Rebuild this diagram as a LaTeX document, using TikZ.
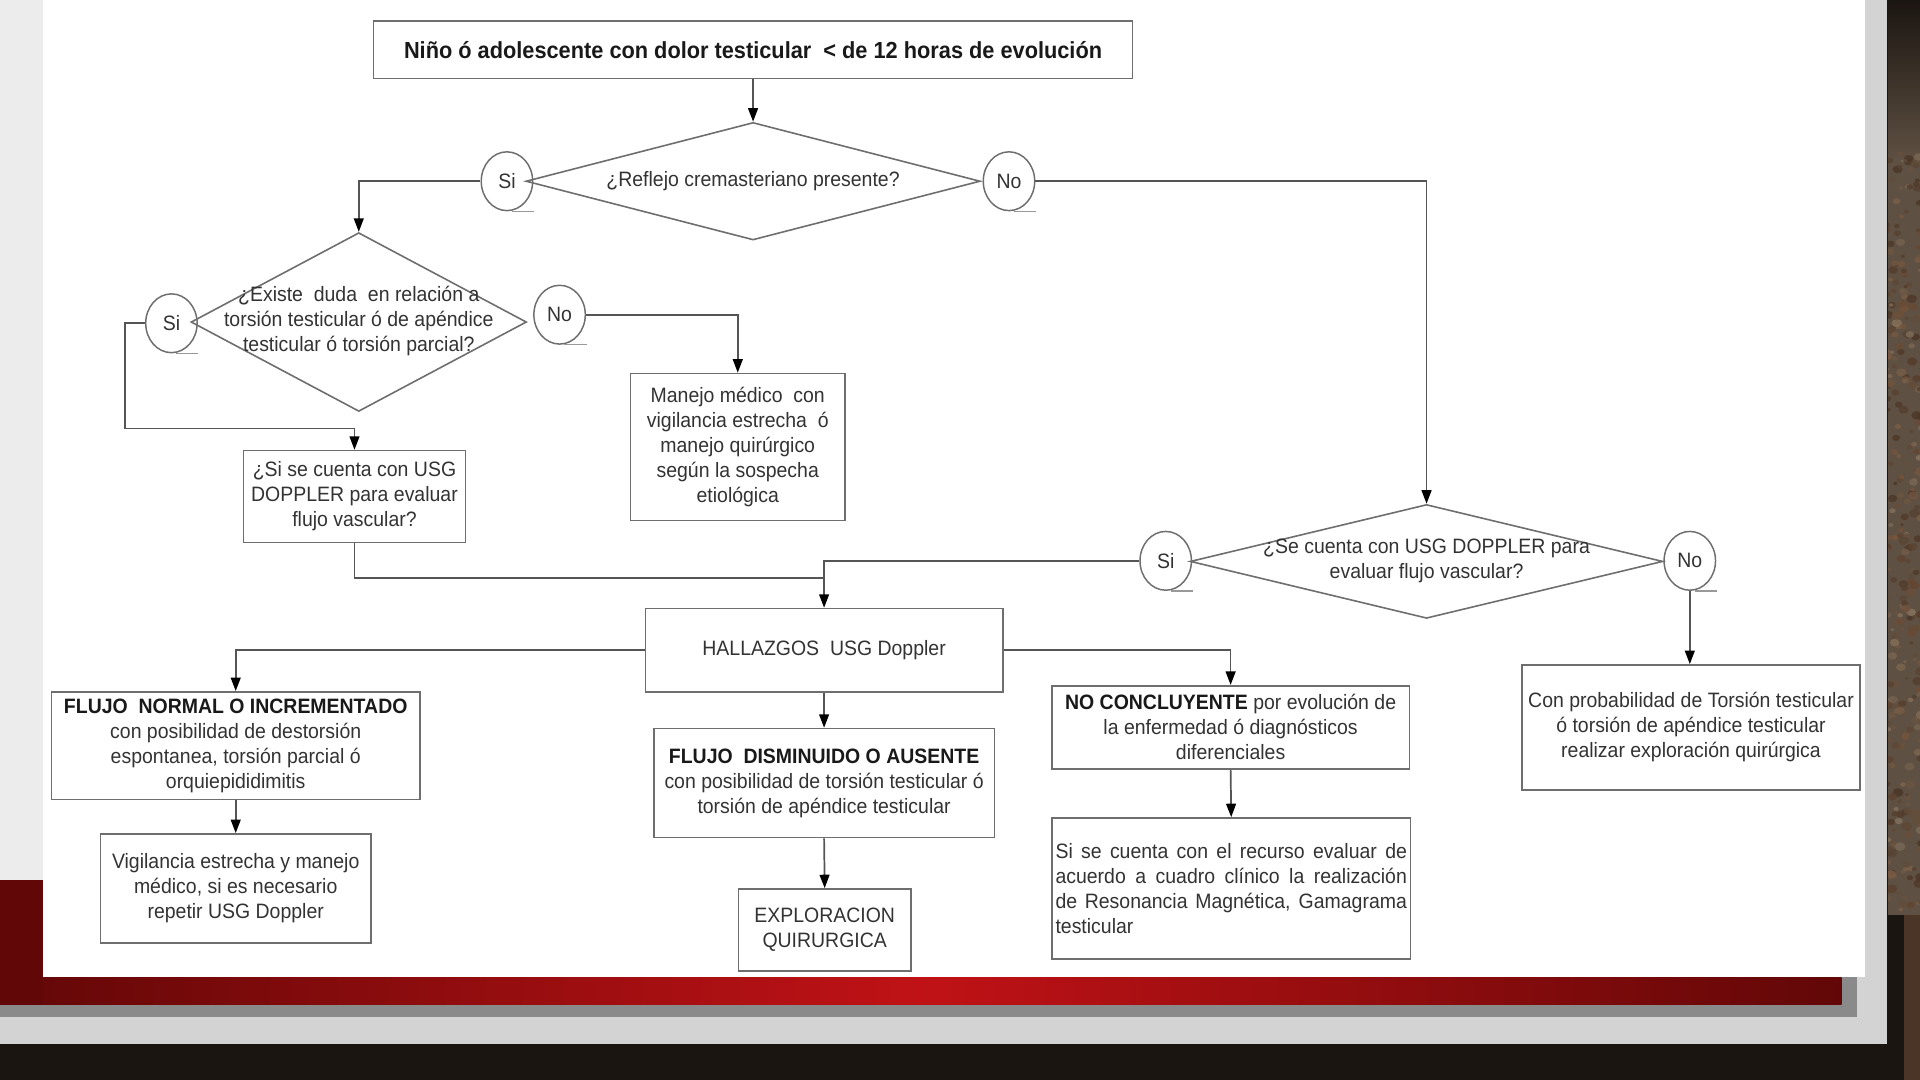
\documentclass[tikz,border=0pt]{standalone}
\usepackage{fontspec}
\setmainfont{Liberation Sans}[FakeStretch=0.935]
\usetikzlibrary{shapes.geometric,arrows.meta,calc}
\definecolor{linegray}{HTML}{555555}
\definecolor{boxgray}{HTML}{6E6E6E}
\definecolor{txtgray}{HTML}{333333}
\definecolor{framegray}{HTML}{D3D3D3}
\definecolor{stripgray}{HTML}{ECECEC}
\definecolor{shadowgray}{HTML}{8A8A8A}
\definecolor{darkred}{HTML}{620707}
\definecolor{brightred}{HTML}{C01216}
\definecolor{bgdark}{HTML}{1B1511}
\definecolor{brickA}{HTML}{5E5042}
\definecolor{brickB}{HTML}{8E806C}
\definecolor{brickC}{HTML}{4A3526}
\definecolor{brickD}{HTML}{7A5236}
\newcommand\hdr[1]{{\bfseries\color{black!90}#1}}
\tikzset{
  basefont/.style={font=\fontsize{17}{20.4}\selectfont},
  box/.style={draw=boxgray, line width=1.3pt, fill=white, inner sep=2pt,
    align=center, text=txtgray, basefont},
  dia/.style={diamond, draw=boxgray, line width=1.3pt, inner sep=0pt},
  lbl/.style={text=txtgray, align=center, inner sep=0pt, basefont},
  yn/.style={ellipse, draw=boxgray, line width=1.2pt, minimum width=42pt,
    minimum height=48pt, inner sep=0pt, text=txtgray, basefont},
  conn/.style={draw=linegray, line width=1.4pt},
  arr/.style={conn, -{Triangle[width=8pt,length=11pt,color=black]}},
  tailc/.style={draw=gray!80, line width=1pt}
}
\begin{document}
\begin{tikzpicture}[x=1pt,y=-1pt]
\useasboundingbox (0,0) rectangle (1568,882);
% ---------- background ----------
\fill[bgdark] (0,0) rectangle (1568,882);
\fill[brickC] (1555,747) rectangle (1568,882);
\begin{scope}
  \clip (1542,0) rectangle (1568,747);
  \shade[top color=bgdark, bottom color=brickA] (1542,0) rectangle (1568,130);
  \fill[brickA] (1542,130) rectangle (1568,747);
  \pgfmathsetseed{11}
  \foreach \i in {1,...,320}{
    \pgfmathsetmacro\xx{1540+30*rnd}
    \pgfmathsetmacro\yy{120+630*rnd}
    \pgfmathsetmacro\rr{1.5+3*rnd}
    \pgfmathsetmacro\cc{100*rnd}
    \pgfmathsetmacro\dd{100*rnd}
    \fill[brickB!\cc!brickD!\dd!brickC, opacity=0.8] (\xx,\yy) ellipse ({\rr} and {\rr*0.8});
  }
\end{scope}
\fill[framegray] (0,0) rectangle (1541,853);
\fill[stripgray] (0,0) rectangle (35,718.7);
\fill[shadowgray] (0,797.9) rectangle (1516.5,830.5);
\shade[left color=darkred, right color=darkred, middle color=brightred]
  (0,797.9) rectangle (1504,820.7);
\fill[darkred] (0,718.7) rectangle (35,820.7);
\fill[white] (35,0) rectangle (1523,797.9);
% ---------- nodes ----------
\node[box, font=\fontsize{19}{22}\selectfont\bfseries, text=black!90,
  minimum width=620pt, minimum height=47pt] (top) at (615,40.5)
  {Niño ó adolescente con dolor testicular \ < de 12 horas de evolución};

\node[dia, minimum width=371pt, minimum height=96pt] (d1) at (615,148) {};
\node[lbl] (d1t) at (d1) {¿Reflejo cremasteriano presente?};
\node[yn] (c1) at (414,148) {Si};
\node[yn] (c2) at (824,148) {No};

\node[dia, minimum width=274pt, minimum height=146pt] (d2) at (293,263) {};
\node[lbl] (d2t) at (293,262.5) {¿Existe \ duda \ en relación a\\ torsión testicular ó de apéndice\\ testicular ó torsión parcial?};
\node[yn] (c3) at (140,264) {Si};
\node[yn] (c4) at (457,257) {No};

\node[box, minimum width=181pt, minimum height=75pt] (b2) at (289.5,405.5)
  {¿Si se cuenta con USG\\ DOPPLER para evaluar\\ flujo vascular?};
\node[box, minimum width=175pt, minimum height=120pt] (b3) at (602.5,365)
  {Manejo médico \ con\\ vigilancia estrecha \ ó\\ manejo quirúrgico\\ según la sospecha\\ etiológica};

\node[dia, minimum width=386pt, minimum height=93pt] (d3) at (1165,458.5) {};
\node[lbl] (d3t) at (1165,458) {¿Se cuenta con USG DOPPLER para\\ evaluar flujo vascular?};
\node[yn] (c5) at (952,458) {Si};
\node[yn] (c6) at (1380,458) {No};

\node[box, minimum width=292pt, minimum height=68pt] (b4) at (673,531)
  {HALLAZGOS \ USG Doppler};
\node[box, minimum width=301pt, minimum height=88pt] (b5) at (192.5,609)
  {\hdr{FLUJO \ NORMAL O INCREMENTADO}\\ con posibilidad de destorsión\\ espontanea, torsión parcial ó\\ orquiepididimitis};
\node[box, minimum width=221pt, minimum height=89pt] (b9) at (192.5,725.5)
  {Vigilancia estrecha y manejo\\ médico, si es necesario\\ repetir USG Doppler};
\node[box, minimum width=278pt, minimum height=89pt] (b6) at (673,639.5)
  {\hdr{FLUJO \ DISMINUIDO O AUSENTE}\\ con posibilidad de torsión testicular ó\\ torsión de apéndice testicular};
\node[box, minimum width=141pt, minimum height=67pt] (b10) at (673.5,759.5)
  {EXPLORACION\\ QUIRURGICA};
\node[box, minimum width=292pt, minimum height=68pt] (b7) at (1005,594)
  {\hdr{NO CONCLUYENTE} por evolución de\\ la enfermedad ó diagnósticos\\ diferenciales};
\node[box, minimum width=293pt, minimum height=115pt, text width=287pt,
  align=justify, inner sep=3pt] (b11) at (1005.5,725.5)
  {Si se cuenta con el recurso evaluar de\linebreak acuerdo a cuadro clínico la realización\linebreak de Resonancia Magnética, Gamagrama\linebreak testicular};
\node[box, minimum width=276pt, minimum height=102pt] (b8) at (1381,594)
  {Con probabilidad de Torsión testicular\\ ó torsión de apéndice testicular\\ realizar exploración quirúrgica};

\foreach \n in {c1,c2,c3,c4,c5,c6}
  \draw[tailc] ($(\n.south)+(4,0)$) -- ($(\n.south)+(22,0)$);

% ---------- connectors ----------
\coordinate (k1) at (102,350);
\coordinate (k2) at (673,472);
\draw[arr] (top) -- (d1.north);
\draw[arr] (c1.west) -| (d2.north);
\draw[arr] (c2.east) -| (d3.north);
\draw[arr] (c3.west) -| (k1) -| (b2.north);
\draw[arr] (c4.east) -| (b3.north);
\draw[conn] (b2.south) |- (k2);
\draw[arr] (c5.west) -| (b4.north);
\draw[arr] (c6.south) -- (c6.south |- b8.north);
\draw[arr] (b4.west) -| (b5.north);
\draw[arr] (b4.east) -| (b7.north);
\draw[arr] (b4.south) -- (b6.north);
\draw[arr] (b5.south) -- (b9.north);
\draw[arr] (b6.south) -- (b10.north);
\draw[arr] (b7.south) -- (b11.north);
\end{tikzpicture}
\end{document}
